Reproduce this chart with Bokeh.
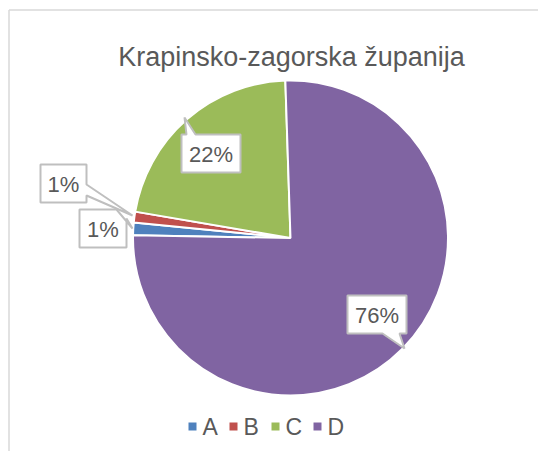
import math
from bokeh.plotting import figure
from bokeh.models import Range1d, ColumnDataSource
from bokeh.core.properties import value
from bokeh.embed import file_html
from bokeh.resources import INLINE

# ---- data ----
title_text = "Krapinsko-zagorska županija"
categories = ["A", "B", "C", "D"]
values = [1.3, 1.1, 21.8, 75.8]
colors = ["#4F81BD", "#C0504D", "#9BBB59", "#8064A2"]
first_slice_angle = 271.0  # degrees, clockwise from 12 o'clock

W, H = 538, 451

def px(X):
    return X

def py(Y):
    return H - Y

p = figure(width=W, height=H, output_backend="svg", toolbar_location=None,
           x_range=Range1d(0, W), y_range=Range1d(0, H),
           x_axis_type=None, y_axis_type=None, min_border=0)
p.grid.visible = False
p.outline_line_color = None
p.background_fill_color = "white"
p.border_fill_color = "white"

# chart frame (top and left visible; right/bottom run off the page in the reference)
p.line(x=[px(8.5), px(560)], y=[py(9.5), py(9.5)], line_color="#D9D9D9", line_width=1.5)
p.line(x=[px(8.5), px(8.5)], y=[py(9.5), py(480)], line_color="#D9D9D9", line_width=1.5)

# ---- pie ----
cx, cy, r = px(290), py(237.5), 157.5
total = sum(values)
starts, ends = [], []
cum = 0.0
for v in values:
    phi_s = first_slice_angle + 360.0 * cum / total
    phi_e = phi_s + 360.0 * v / total
    cum += v
    starts.append(math.radians(90 - phi_e))
    ends.append(math.radians(90 - phi_s))
src = ColumnDataSource(dict(start=starts, end=ends, color=colors, cat=categories))
p.wedge(x=cx, y=cy, radius=r, start_angle="start", end_angle="end",
        fill_color="color", line_color="white", line_width=2, source=src)

# ---- data labels (callouts) ----
pct = ["%d%%" % round(v / total * 100) for v in values]
callouts = {
    "A": [(79, 209), (116, 209), (132, 228), (126, 218), (126, 247), (79, 247)],
    "B": [(40, 164), (86, 164), (86, 184), (132, 215), (86, 195), (86, 202), (40, 202)],
    "C": [(181, 134), (186, 134), (184, 117), (195, 134), (240, 134), (240, 172), (181, 172)],
    "D": [(347, 295), (406, 295), (406, 333), (399, 333), (404, 348), (382, 333), (347, 333)],
}
label_pos = {"A": (102.5, 229), "B": (63, 184), "C": (210.5, 154), "D": (376.5, 315)}
for cat, lab in zip(categories, pct):
    poly = callouts[cat]
    p.patch(x=[px(a) for a, b in poly], y=[py(b) for a, b in poly],
            fill_color="white", line_color="#BFBFBF", line_width=2)
    lx, ly = label_pos[cat]
    p.text(x=[px(lx)], y=[py(ly)], text=[lab], text_align="center",
           text_baseline="middle", text_font=value("Liberation Sans"),
           text_font_size="22px", text_color="#595959")

# ---- title ----
p.text(x=[px(291)], y=[py(56)], text=[title_text], text_align="center",
       text_baseline="middle", text_font=value("Liberation Sans"),
       text_font_size="27px", text_color="#595959")

# ---- legend ----
leg_sq_x = [192, 233, 275, 317]
leg_tx_x = [202, 243, 285, 327]
p.rect(x=[px(x) for x in leg_sq_x], y=[py(426)] * 4, width=8, height=8,
       fill_color=colors, line_color=None)
p.text(x=[px(x) for x in leg_tx_x], y=[py(426)] * 4, text=categories,
       text_align="left", text_baseline="middle",
       text_font=value("Liberation Sans"), text_font_size="23px",
       text_color="#595959")

open("out.html", "w").write(file_html(p, INLINE))
